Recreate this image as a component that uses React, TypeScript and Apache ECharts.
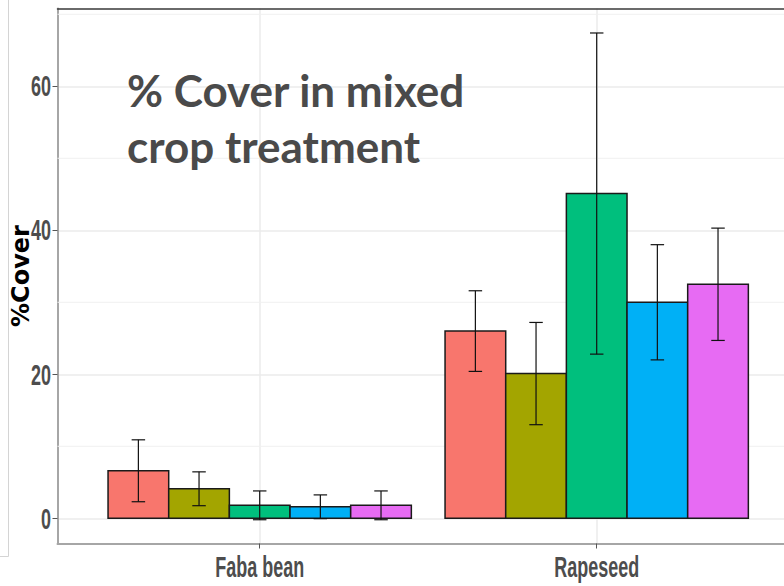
import { useEffect, useRef } from "react";
import * as echarts from "echarts";

// Crop groups on the x axis and the five treatment fills (ggplot hue palette)
const categories = ["Faba bean", "Rapeseed"];
const barColors = ["#F8766D", "#A3A500", "#00BF7D", "#00B0F6", "#E76BF3"];

// Mean % cover and its error half-width, per treatment
const fabaMeans = [6.6, 4.1, 1.8, 1.6, 1.8];
const fabaErr = [4.3, 2.35, 2.0, 1.65, 2.0];
const rapeMeans = [26.0, 20.1, 45.1, 30.0, 32.5];
const rapeErr = [5.6, 7.1, 22.3, 8.0, 7.8];

const yTicks = [0, 20, 40, 60];
const yMinorGrid = [10, 30, 50, 70];
const xTicks = [1, 2];

const titleLines = ["% Cover in mixed", "crop treatment"];

const DODGE = 0.18; // width of one bar in axis units (0.9 / 5)
const CAP = 0.02; // half width of an error-bar cap
const X_MIN = 0.4;
const X_MAX = 2.6;
const Y_MIN = -3.5;
const Y_MAX = 70.8;

// condensed bold face used by the axis tick labels
const tickFont = {
  fontFamily: "'Liberation Sans', Arial, sans-serif",
  fontWeight: "bold",
  fontSize: 29,
  fill: "#4D4D4D",
};
const TICK_SQUEEZE = 0.62;

function buildRows() {
  const rows: number[][] = [];
  const groups = [
    [fabaMeans, fabaErr],
    [rapeMeans, rapeErr],
  ];
  groups.forEach(([means, errs], c) => {
    means.forEach((m, i) => {
      rows.push([c + 1 + (i - 2) * DODGE, m, errs[i], i]);
    });
  });
  return rows;
}

export default function App() {
  const ref = useRef<HTMLDivElement>(null);

  useEffect(() => {
    if (!ref.current) return;
    const chart = echarts.init(ref.current, undefined, { renderer: "svg" });

    const option: any = {
      animation: false,
      backgroundColor: "#ffffff",
      grid: {
        left: 57.5,
        top: 8.5,
        width: 741.4,
        height: 535,
        containLabel: false,
        outerBoundsMode: "none",
      },
      xAxis: [
        {
          type: "value",
          min: X_MIN,
          max: X_MAX,
          position: "bottom",
          axisLine: { show: true, onZero: false, lineStyle: { color: "#A6A6A6", width: 2 } },
          axisTick: { show: true, customValues: xTicks, length: 5, lineStyle: { color: "#555555", width: 1 } },
          axisLabel: { show: false },
          splitLine: { show: true, lineStyle: { color: "#EBEBEB", width: 1.5 } },
        },
        {
          type: "value",
          min: X_MIN,
          max: X_MAX,
          position: "top",
          axisLine: { show: true, onZero: false, lineStyle: { color: "#3A3A3A", width: 1.5 } },
          axisTick: { show: false },
          axisLabel: { show: false },
          splitLine: { show: false },
        },
      ],
      yAxis: {
        type: "value",
        min: Y_MIN,
        max: Y_MAX,
        axisLine: { show: true, onZero: false, lineStyle: { color: "#A6A6A6", width: 2 } },
        axisTick: { show: true, customValues: yTicks, length: 5, lineStyle: { color: "#555555", width: 1 } },
        axisLabel: { show: false },
        splitLine: { show: true, lineStyle: { color: "#EBEBEB", width: 1.5 } },
        name: "%Cover",
        nameLocation: "middle",
        nameGap: 25,
        nameTextStyle: {
          fontFamily: "'DejaVu Sans', sans-serif",
          fontWeight: "bold",
          fontSize: 24,
          color: "#000000",
        },
      },
      series: [
        {
          // minor horizontal gridlines
          type: "custom",
          z: 1,
          silent: true,
          encode: { x: 0, y: 1 },
          data: yMinorGrid.map((v) => [1.5, v]),
          renderItem: (_p: any, api: any) => {
            const v = api.value(1);
            const a = api.coord([X_MIN, v]);
            const b = api.coord([X_MAX, v]);
            return {
              type: "line",
              shape: { x1: a[0], y1: a[1], x2: b[0], y2: b[1] },
              style: { stroke: "#F0F0F0", lineWidth: 1 },
            };
          },
        },
        {
          // y tick labels, squeezed horizontally
          type: "custom",
          z: 4,
          silent: true,
          clip: false,
          encode: { x: 0, y: 1 },
          data: yTicks.map((v) => [X_MIN, v]),
          renderItem: (_p: any, api: any) => {
            const v = api.value(1);
            const p = api.coord([X_MIN, v]);
            return {
              type: "text",
              x: p[0] - 6.5,
              y: p[1],
              scaleX: TICK_SQUEEZE,
              style: { ...tickFont, text: String(v), align: "right", verticalAlign: "middle" },
            };
          },
        },
        {
          // category labels under the x axis
          type: "custom",
          z: 4,
          silent: true,
          clip: false,
          encode: { x: 0, y: 1 },
          data: xTicks.map((v) => [v, Y_MIN]),
          renderItem: (_p: any, api: any) => {
            const v = api.value(0);
            const p = api.coord([v, Y_MIN]);
            return {
              type: "text",
              x: p[0],
              y: p[1] + 23.5,
              scaleX: TICK_SQUEEZE,
              style: {
                ...tickFont,
                text: categories[Math.round(v) - 1] ?? "",
                align: "center",
                verticalAlign: "middle",
              },
            };
          },
        },
        {
          // bars with error bars
          type: "custom",
          z: 3,
          encode: { x: 0, y: 1 },
          data: buildRows(),
          renderItem: (_p: any, api: any) => {
            const x = api.value(0);
            const m = api.value(1);
            const e = api.value(2);
            const i = api.value(3);
            const tl = api.coord([x - DODGE / 2, m]);
            const br = api.coord([x + DODGE / 2, 0]);
            const top = api.coord([x, m + e]);
            const bot = api.coord([x, m - e]);
            const capL = api.coord([x - CAP, m + e])[0];
            const capR = api.coord([x + CAP, m + e])[0];
            const errStyle = { stroke: "#111111", lineWidth: 1.2 };
            return {
              type: "group",
              children: [
                {
                  type: "rect",
                  shape: { x: tl[0], y: tl[1], width: br[0] - tl[0], height: br[1] - tl[1] },
                  style: { fill: barColors[i], stroke: "#1A1A1A", lineWidth: 1.5 },
                },
                {
                  type: "line",
                  shape: { x1: top[0], y1: top[1], x2: bot[0], y2: bot[1] },
                  style: errStyle,
                },
                {
                  type: "line",
                  shape: { x1: capL, y1: top[1], x2: capR, y2: top[1] },
                  style: errStyle,
                },
                {
                  type: "line",
                  shape: { x1: capL, y1: bot[1], x2: capR, y2: bot[1] },
                  style: errStyle,
                },
              ],
            };
          },
        },
      ],
      graphic: [
        {
          type: "polyline",
          silent: true,
          shape: { points: [[8.5, 0], [8.5, 556.5], [0, 556.5]] },
          style: { stroke: "#D4D4D4", lineWidth: 1, fill: null },
        },
        {
          type: "text",
          x: 127,
          y: 89.7,
          z: 10,
          style: {
            text: titleLines[0],
            fontFamily: "Lato, sans-serif",
            fontWeight: "bold",
            fontSize: 44,
            fill: "#4A4A4A",
            verticalAlign: "middle",
          },
        },
        {
          type: "text",
          x: 127,
          y: 146.3,
          z: 10,
          style: {
            text: titleLines[1],
            fontFamily: "Lato, sans-serif",
            fontWeight: "bold",
            fontSize: 44,
            fill: "#4A4A4A",
            verticalAlign: "middle",
          },
        },
      ],
    };

    chart.setOption(option);
    return () => chart.dispose();
  }, []);

  return (
    <div
      ref={ref}
      style={{ position: "fixed", left: 0, top: 0, width: 784, height: 586 }}
    />
  );
}
